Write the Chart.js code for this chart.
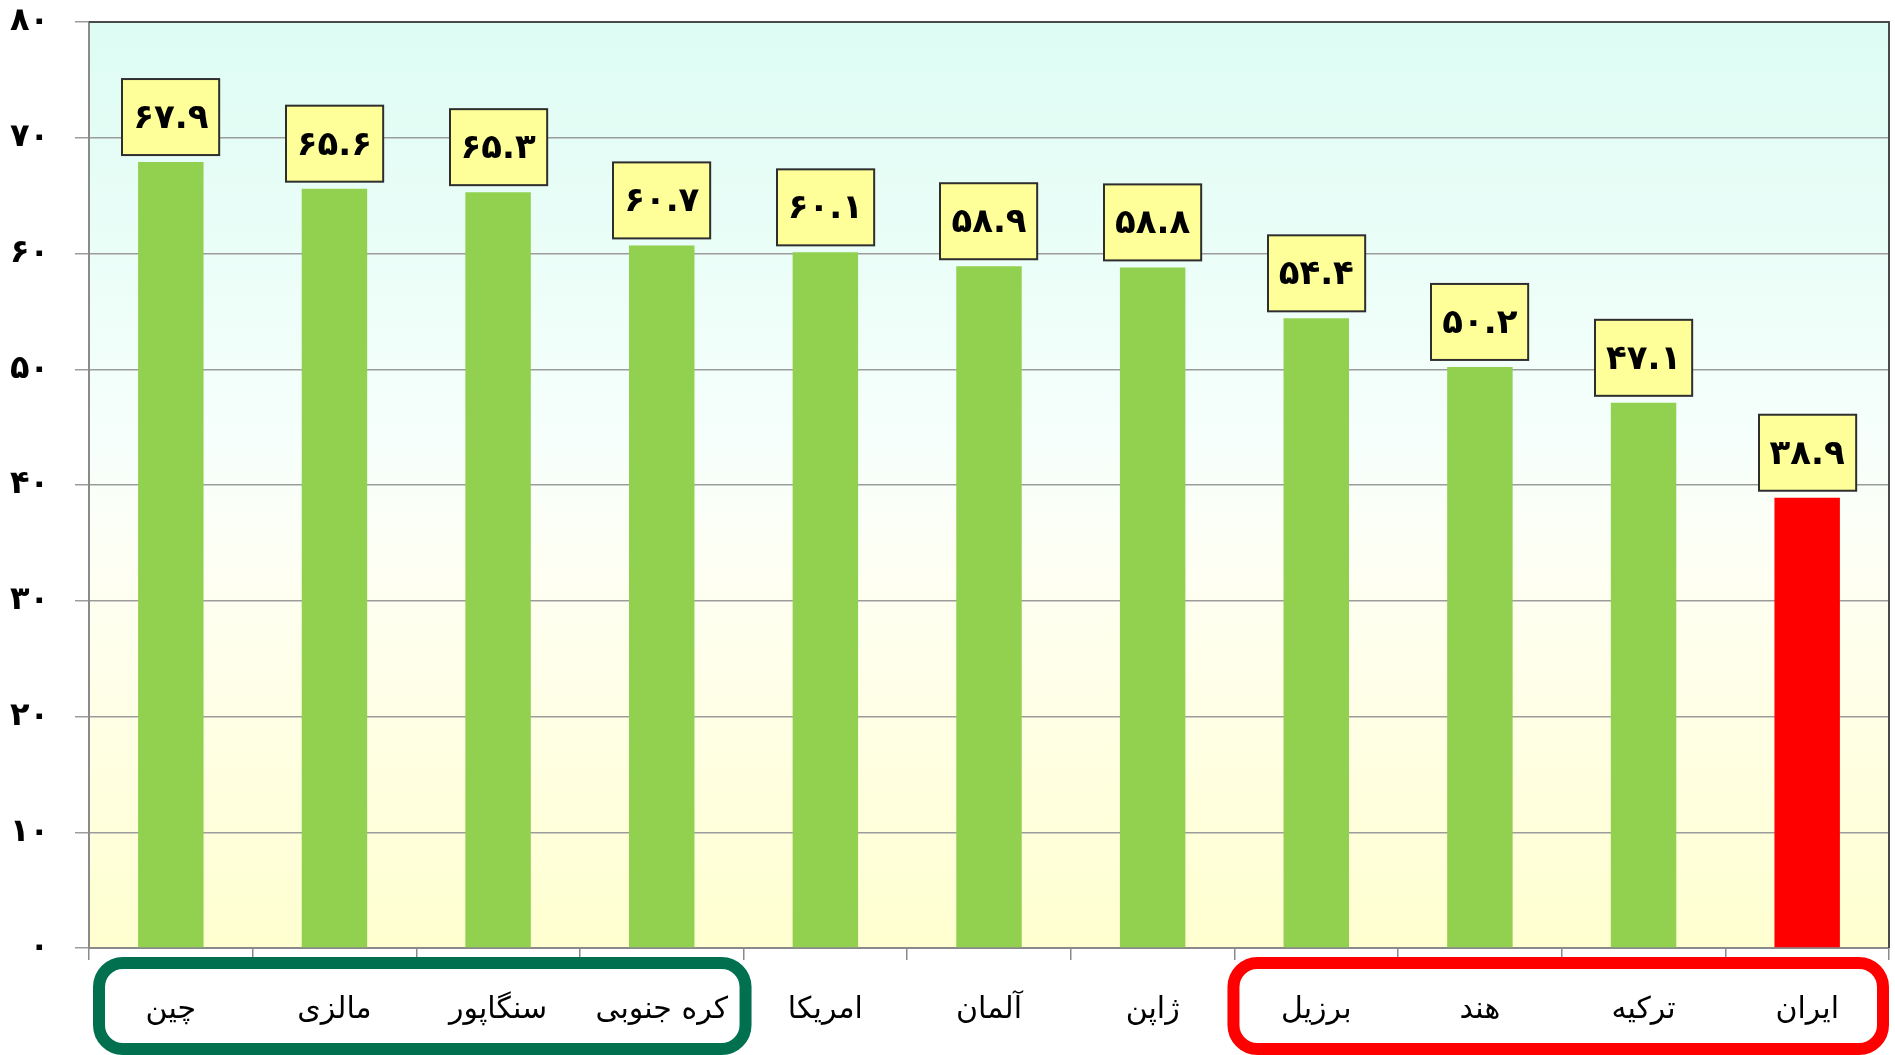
<!DOCTYPE html>
<html lang="fa">
<head>
<meta charset="utf-8">
<title>نمودار</title>
<script src="https://cdn.jsdelivr.net/npm/chart.js@4.4.1/dist/chart.umd.min.js"></script>
<style>
  html, body { margin: 0; padding: 0; background: #ffffff; overflow: hidden; }
  #wrap { width: 1895px; height: 1055px; position: relative; }
</style>
</head>
<body>
<div id="wrap"><canvas id="chart" width="1895" height="1055"></canvas></div>
<script>
// Countries, left to right, and their values
const countries = ['چین', 'مالزی', 'سنگاپور', 'کره جنوبی', 'امریکا', 'آلمان', 'ژاپن', 'برزیل', 'هند', 'ترکیه', 'ایران'];
const values = [67.9, 65.6, 65.3, 60.7, 60.1, 58.9, 58.8, 54.4, 50.2, 47.1, 38.9];
const highlighted = ['ایران'];

// Value axis range
const yMin = 0;
const yMax = 80;
const yStep = 10;

// Framed groups of categories (first and last index)
const leadersGroup = [0, 3];
const laggardsGroup = [7, 10];

const PERSIAN_DIGITS = '۰۱۲۳۴۵۶۷۸۹';
function toPersian(str) {
  return String(str).replace(/[0-9]/g, d => PERSIAN_DIGITS[+d]);
}

const FONT = "'DejaVu Sans', 'Noto Sans', sans-serif";
const PLOT_TOP = 22;

// Chart area background: mint at the top fading to pale yellow at the bottom
const backgroundPlugin = {
  id: 'areaBackground',
  beforeDraw(chart) {
    const { ctx, chartArea: a } = chart;
    const g = ctx.createLinearGradient(0, a.top, 0, a.bottom);
    g.addColorStop(0, '#ddfcf3');
    g.addColorStop(0.45, '#f6fffc');
    g.addColorStop(0.6, '#fffff3');
    g.addColorStop(1, '#ffffd0');
    ctx.save();
    ctx.fillStyle = g;
    ctx.fillRect(a.left, a.top, a.right - a.left, a.bottom - a.top);
    ctx.restore();
  },
  afterDraw(chart) {
    const { ctx, chartArea: a } = chart;
    ctx.save();
    ctx.strokeStyle = '#4a4a4a';
    ctx.lineWidth = 2;
    ctx.beginPath();
    ctx.moveTo(a.left, a.top);
    ctx.lineTo(a.right, a.top);
    ctx.lineTo(a.right, a.bottom);
    ctx.stroke();
    ctx.restore();
  }
};

// Yellow value boxes above each bar
const valueBoxPlugin = {
  id: 'valueBoxes',
  afterDatasetsDraw(chart) {
    const { ctx } = chart;
    const meta = chart.getDatasetMeta(0);
    ctx.save();
    ctx.font = 'bold 34px ' + FONT;
    ctx.textAlign = 'center';
    ctx.textBaseline = 'middle';
    meta.data.forEach((bar, i) => {
      const text = toPersian(values[i].toFixed(1));
      const w = Math.max(ctx.measureText(text).width + 22, 88);
      const h = 76;
      const bottom = bar.y - 7;
      const left = Math.round(bar.x - w / 2);
      ctx.fillStyle = '#ffff99';
      ctx.fillRect(left, bottom - h, w, h);
      ctx.strokeStyle = '#2e2e2e';
      ctx.lineWidth = 2;
      ctx.strokeRect(left, bottom - h, w, h);
      ctx.fillStyle = '#000000';
      ctx.fillText(text, bar.x, bottom - h / 2 + 2);
    });
    ctx.restore();
  }
};

// Rounded frames around groups of category labels
const groupFramePlugin = {
  id: 'groupFrames',
  afterDraw(chart) {
    const { ctx } = chart;
    const x = chart.scales.x;
    const half = (x.getPixelForValue(1) - x.getPixelForValue(0)) / 2;
    const frames = [
      { range: leadersGroup, color: '#00704f', inset: [10, -2] },
      { range: laggardsGroup, color: '#ff0000', inset: [-1, 6] }
    ];
    const top = 963;
    const bottom = 1049;
    frames.forEach(f => {
      const l = x.getPixelForValue(f.range[0]) - half + f.inset[0];
      const r = x.getPixelForValue(f.range[1]) + half - f.inset[1];
      ctx.save();
      ctx.strokeStyle = f.color;
      ctx.lineWidth = 12;
      ctx.beginPath();
      ctx.roundRect(l, top, r - l, bottom - top, 24);
      ctx.stroke();
      ctx.restore();
    });
  }
};

new Chart(document.getElementById('chart'), {
  type: 'bar',
  data: {
    labels: countries,
    datasets: [{
      data: values,
      backgroundColor: countries.map(c => highlighted.includes(c) ? '#ff0000' : '#92d050'),
      borderWidth: 0,
      barPercentage: 0.4,
      categoryPercentage: 1.0
    }]
  },
  options: {
    responsive: false,
    animation: false,
    devicePixelRatio: 1,
    layout: { padding: { top: 0, right: 6, left: 0, bottom: 0 } },
    plugins: {
      legend: { display: false },
      tooltip: { enabled: false }
    },
    scales: {
      x: {
        offset: true,
        afterFit(scale) { scale.height = 107; },
        grid: {
          offset: true,
          drawOnChartArea: false,
          drawTicks: true,
          tickLength: 12,
          color: '#8a8a8a',
          lineWidth: 1.5
        },
        border: { color: '#8a8a8a', width: 2 },
        ticks: {
          color: '#000000',
          font: { family: FONT, size: 30 },
          padding: 32,
          maxRotation: 0,
          autoSkip: false
        }
      },
      y: {
        min: yMin,
        max: yMax,
        afterFit(scale) {
          scale.width = 89;
          scale.paddingTop = PLOT_TOP;
        },
        grid: {
          color: '#9c9c9c',
          lineWidth: 1.5,
          tickLength: 14
        },
        border: { color: '#8a8a8a', width: 2 },
        ticks: {
          stepSize: yStep,
          color: '#000000',
          font: { family: FONT, size: 32, weight: 'bold' },
          padding: 26,
          callback: v => toPersian(v)
        }
      }
    }
  },
  plugins: [backgroundPlugin, valueBoxPlugin, groupFramePlugin]
});
</script>
</body>
</html>
